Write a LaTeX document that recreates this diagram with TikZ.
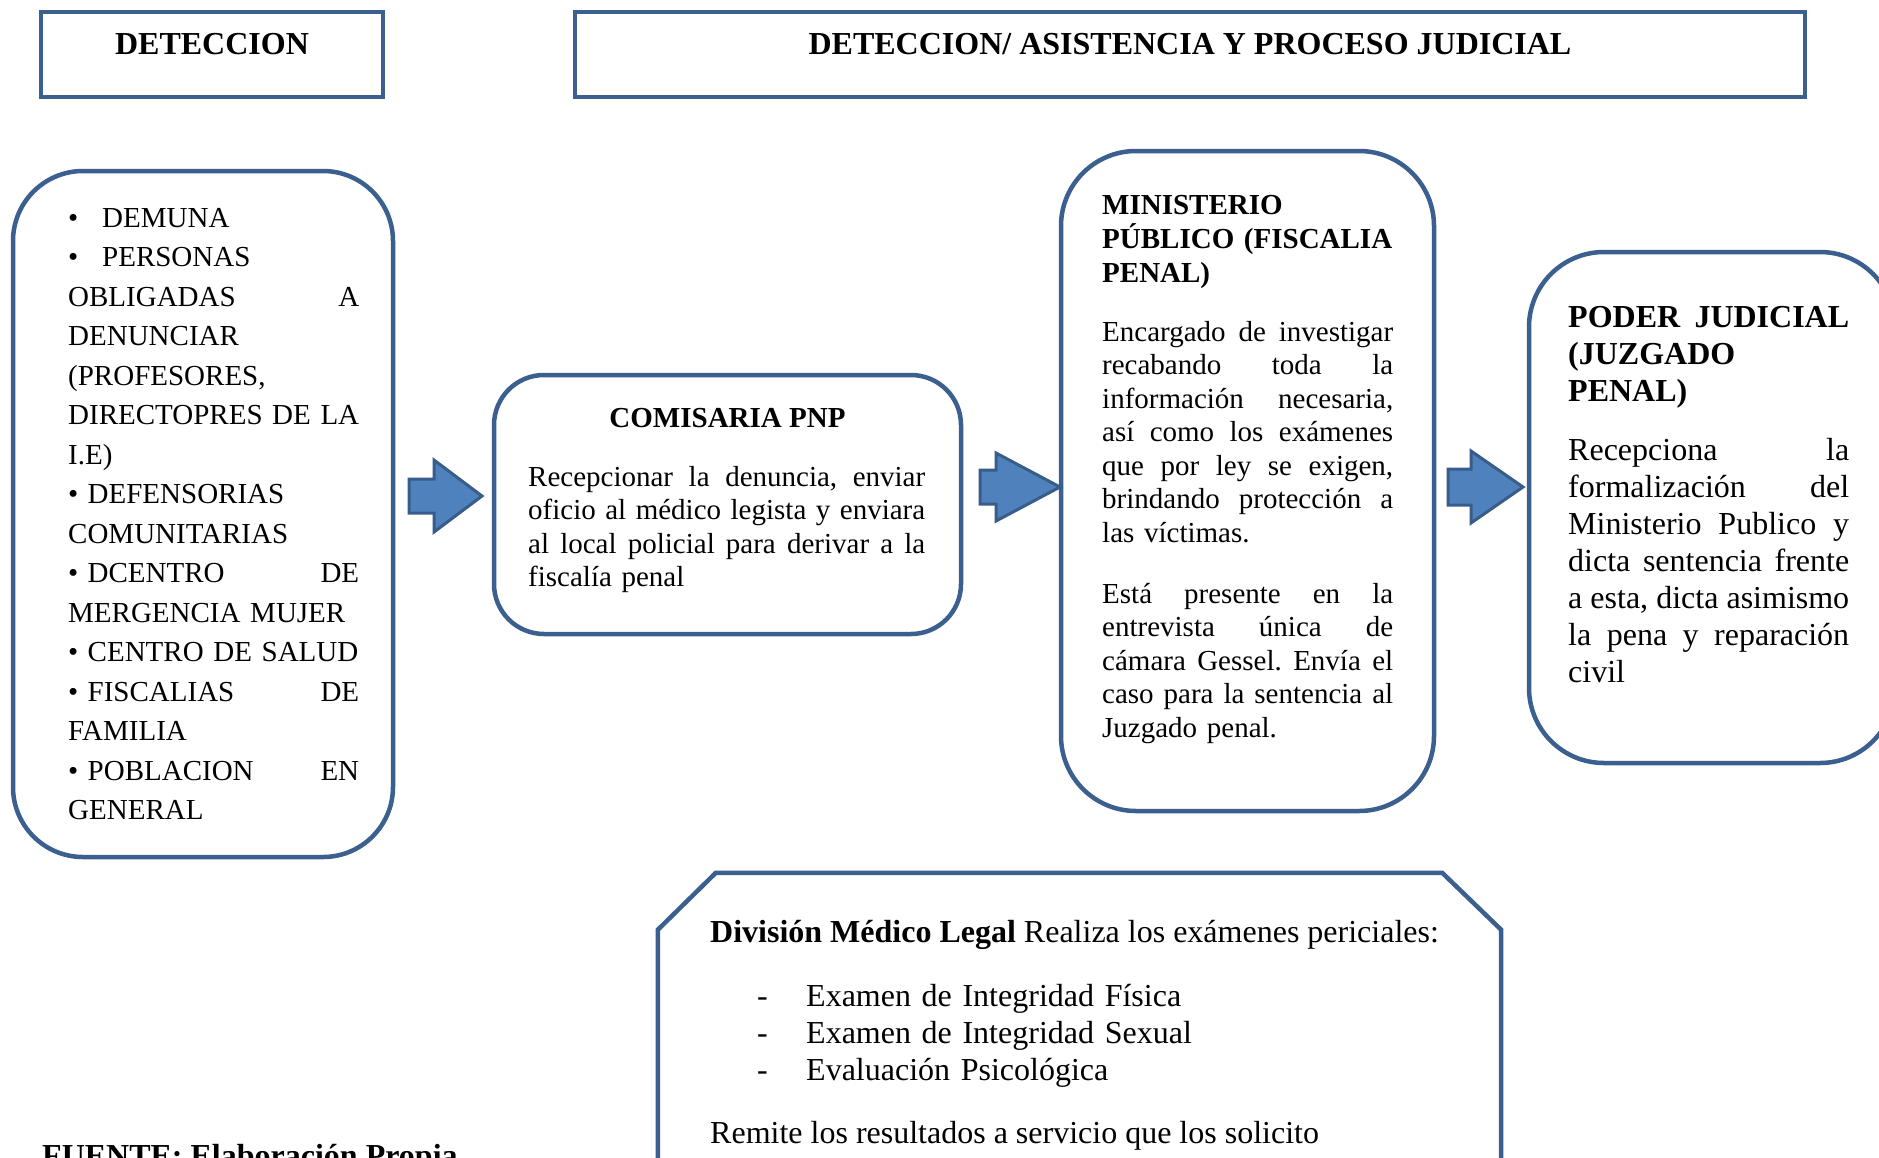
\documentclass[tikz,border=0pt]{standalone}
\usepackage{fontspec}
\setmainfont{Liberation Serif}
\usetikzlibrary{calc}
\definecolor{boxblue}{HTML}{3B5F8F}
\definecolor{arrowfill}{HTML}{4F81BD}
\definecolor{arrowline}{HTML}{385D8A}
\newcommand\jline[1]{{\spaceskip=0.25em plus 1fil minus 0.04em\relax\makebox[\linewidth][s]{#1}}}
\newcommand\blt[1]{\makebox[#1][l]{•}}
\begin{document}
\frenchspacing
\begin{tikzpicture}[x=1pt,y=1pt,
  boxline/.style={draw=boxblue, line width=4.5pt},
  rbox/.style={boxline, rounded corners=#1, inner sep=0pt},
  arrowstyle/.style={fill=arrowfill, draw=arrowline, line width=3pt, line join=miter},
  txt/.style={anchor=base west, inner sep=0pt, align=left},
  hdr/.style={anchor=base, inner sep=0pt, font=\bfseries\fontsize{32}{37}\selectfont},
  fa/.style={font=\fontsize{29}{39.5}\selectfont},
  fb/.style={font=\fontsize{29}{33.5}\selectfont},
  fbb/.style={font=\bfseries\fontsize{29}{34}\selectfont},
  fc/.style={font=\fontsize{32}{37}\selectfont},
  fcb/.style={font=\bfseries\fontsize{32}{37}\selectfont}
]
\path[use as bounding box] (0,0) rectangle (1879,-1157);
\clip (0,0) rectangle (1879,-1157);
\fill[white] (0,0) rectangle (1879,-1157);

% header boxes
\node[boxline, minimum width=342pt, minimum height=85pt, inner sep=0pt] (h1) at (212,-54.5) {};
\node[hdr] (h1t) at (212,-54) {DETECCION};
\node[boxline, minimum width=1230pt, minimum height=85pt, inner sep=0pt] (h2) at (1190,-54.5) {};
\node[hdr] (h2t) at (1190,-54) {DETECCION/ ASISTENCIA Y PROCESO JUDICIAL};

% left box
\node[rbox=70pt, minimum width=380pt, minimum height=686pt] (det) at (203,-514) {};
\node[txt, fa, text width=291pt] (dett) at (68,-227) {%
\blt{34pt}DEMUNA\\
\blt{34pt}PERSONAS\\
\jline{OBLIGADAS A}\\
DENUNCIAR\\
(PROFESORES,\\
\jline{DIRECTOPRES DE LA}\\
I.E)\\
\blt{19.5pt}DEFENSORIAS\\
COMUNITARIAS\\
\jline{\blt{19.5pt}DCENTRO DE}\\
MERGENCIA MUJER\\
\blt{19.5pt}CENTRO DE SALUD\\
\jline{\blt{19.5pt}FISCALIAS DE}\\
FAMILIA\\
\jline{\blt{19.5pt}POBLACION EN}\\
GENERAL};

% comisaria
\node[rbox=50pt, minimum width=467pt, minimum height=259pt] (com) at (727.5,-504.5) {};
\node[anchor=base, inner sep=0pt, fbb] (comt) at (727.5,-427) {COMISARIA PNP};
\node[txt, fb, text width=397pt] (comb) at (528,-486) {%
\jline{Recepcionar la denuncia, enviar}\\
\jline{oficio al médico legista y enviara}\\
\jline{al local policial para derivar a la}\\
fiscalía penal};

% ministerio
\node[rbox=75pt, minimum width=373pt, minimum height=660pt] (min) at (1247.5,-481) {};
\node[txt, fbb, text width=291pt] (mint) at (1102,-214) {%
MINISTERIO\\
PÚBLICO (FISCALIA\\
PENAL)};
\node[txt, fb, text width=291pt] (minb1) at (1102,-341) {%
\jline{Encargado de investigar}\\
\jline{recabando toda la}\\
\jline{información necesaria,}\\
\jline{así como los exámenes}\\
\jline{que por ley se exigen,}\\
\jline{brindando protección a}\\
las víctimas.};
\node[txt, fb, text width=291pt] (minb2) at (1102,-603) {%
\jline{Está presente en la}\\
\jline{entrevista única de}\\
\jline{cámara Gessel. Envía el}\\
\jline{caso para la sentencia al}\\
Juzgado penal.};

% poder judicial
\node[rbox=75pt, minimum width=366pt, minimum height=511pt] (pod) at (1712,-507.5) {};
\node[txt, fcb, text width=281pt] (podt) at (1568,-327) {%
\jline{PODER JUDICIAL}\\
(JUZGADO\\
PENAL)};
\node[txt, fc, text width=281pt] (podb) at (1568,-460) {%
\jline{Recepciona la}\\
\jline{formalización del}\\
\jline{Ministerio Publico y}\\
\jline{dicta sentencia frente}\\
\jline{a esta, dicta asimismo}\\
\jline{la pena y reparación}\\
civil};

% block arrows
\draw[arrowstyle] (409,-479) -- (434,-479) -- (434,-460) -- (482,-496) -- (434,-532) -- (434,-513) -- (409,-513) -- cycle;
\draw[arrowstyle] (980,-470) -- (996,-470) -- (996,-453) -- (1060,-487) -- (996,-521) -- (996,-504) -- (980,-504) -- cycle;
\draw[arrowstyle] (1448,-469) -- (1471,-469) -- (1471,-451) -- (1523,-487) -- (1471,-523) -- (1471,-505) -- (1448,-505) -- cycle;

% division medico legal
\node[inner sep=0pt, minimum width=843pt, minimum height=302pt] (dml) at (1079.5,-1024) {};
\draw[boxline, line join=miter] (dml.south west) -- ([yshift=-57pt]dml.north west) -- ([xshift=58pt]dml.north west)
  -- ([xshift=-59pt]dml.north east) -- ([yshift=-57pt]dml.north east) -- (dml.south east);
\node[txt, fc] (dmlt) at (710,-942) {\textbf{División Médico Legal} Realiza los exámenes periciales:};
\node[txt, fc, text width=520pt] (dmll) at (757,-1006) {%
\makebox[49pt][l]{-}Examen de Integridad Física\\
\makebox[49pt][l]{-}Examen de Integridad Sexual\\
\makebox[49pt][l]{-}Evaluación Psicológica};
\node[txt, fc] (dmlr) at (710,-1143) {Remite los resultados a servicio que los solicito};

% fuente
\node[txt, fcb] (fuente) at (42,-1166) {FUENTE: Elaboración Propia};
\end{tikzpicture}
\end{document}
